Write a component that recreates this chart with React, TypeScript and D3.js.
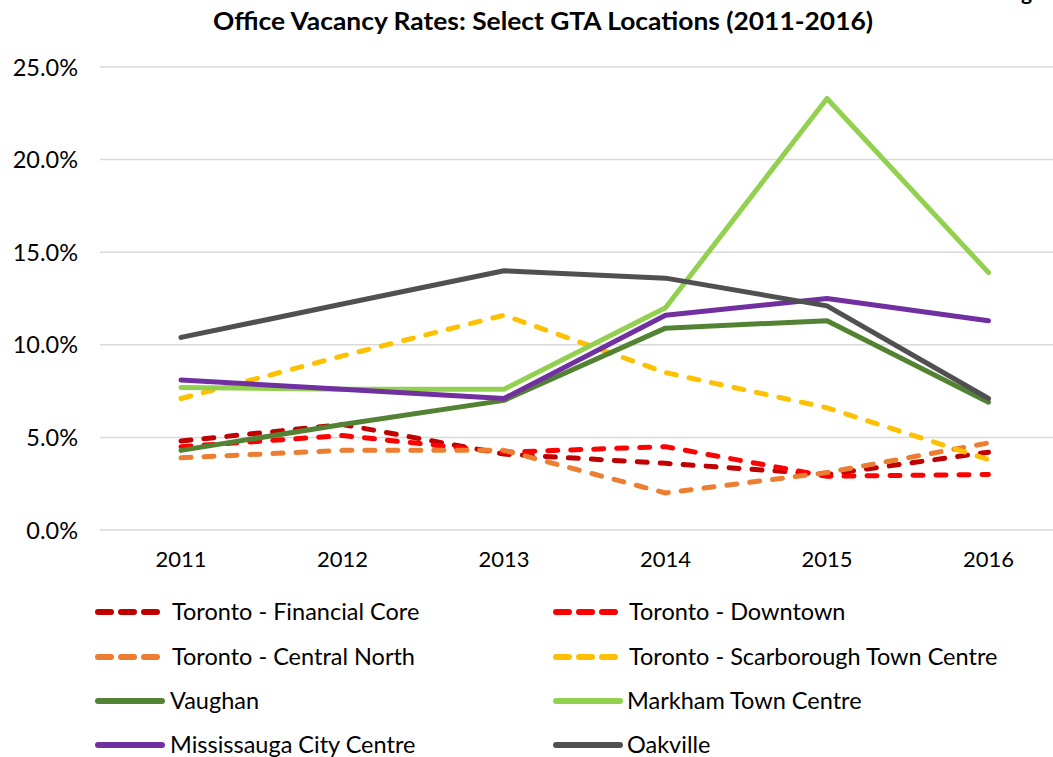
import React from "react";
import * as d3 from "d3";

const years = ["2011", "2012", "2013", "2014", "2015", "2016"];
const yTicks = [0, 5, 10, 15, 20, 25];

const financialCore = [4.8, 5.7, 4.1, 3.6, 3.0, 4.2];
const downtown = [4.5, 5.1, 4.2, 4.5, 2.9, 3.0];
const centralNorth = [3.9, 4.3, 4.3, 2.0, 3.1, 4.7];
const scarborough = [7.1, 9.4, 11.6, 8.5, 6.6, 3.8];
const vaughan = [4.3, 5.7, 7.0, 10.9, 11.3, 6.9];
const markham = [7.7, 7.6, 7.6, 12.0, 23.3, 13.9];
const mississauga = [8.1, 7.6, 7.1, 11.6, 12.5, 11.3];
const oakville = [10.4, 12.2, 14.0, 13.6, 12.1, 7.1];

const seriesNames = [
  "Toronto - Financial Core",
  "Toronto - Downtown",
  "Toronto - Central North",
  "Toronto - Scarborough Town Centre",
  "Vaughan",
  "Markham Town Centre",
  "Mississauga City Centre",
  "Oakville",
];
const seriesValues = [financialCore, downtown, centralNorth, scarborough, vaughan, markham, mississauga, oakville];
const seriesColors = ["#C00000", "#FF0000", "#ED7D31", "#FFC000", "#548235", "#92D050", "#7030A0", "#505050"];
const seriesDashed = [true, true, true, true, false, false, false, false];

const W = 1053;
const H = 757;
const FONT = "Lato, 'Open Sans', sans-serif";

export default function App() {
  const x = d3.scalePoint<string>().domain(years).range([181, 988.5]);
  const y = d3.scaleLinear().domain([0, 25]).range([530, 67]);
  const line = d3
    .line<number>()
    .x((_, i) => x(years[i]) as number)
    .y((d) => y(d));

  const legendCols = [95, 553];
  const legendTextX = [172, 629];
  const legendRows = [612, 657, 701, 745];

  return (
    <svg
      width={W}
      height={H}
      style={{ position: "absolute", left: 0, top: 0, background: "#fff" }}
      fontFamily={FONT}
    >
      <rect x={0} y={0} width={W} height={H} fill="#fff" />
      <text x={1021} y={0} fontSize={21} fontWeight="bold" fill="#000">g</text>
      <text
        x={543}
        y={30}
        textAnchor="middle"
        fontSize={24}
        fontWeight="bold"
        fill="#000"
        textLength={660}
        lengthAdjust="spacingAndGlyphs"
      >
        Office Vacancy Rates: Select GTA Locations (2011-2016)
      </text>
      {yTicks.map((t) => (
        <g key={t}>
          <line x1={100} x2={W} y1={y(t)} y2={y(t)} stroke="#d9d9d9" strokeWidth={1.5} />
          <text x={78} y={y(t) + 8.5} textAnchor="end" fontSize={23.5} fill="#000">
            {t.toFixed(1) + "%"}
          </text>
        </g>
      ))}
      {years.map((yr) => (
        <text key={yr} x={x(yr)} y={567} textAnchor="middle" fontSize={22} fill="#000">
          {yr}
        </text>
      ))}
      {seriesValues.map((vals, i) => (
        <path
          key={seriesNames[i]}
          d={line(vals) || ""}
          fill="none"
          stroke={seriesColors[i]}
          strokeWidth={5}
          strokeLinejoin="round"
          strokeLinecap="round"
          strokeDasharray={seriesDashed[i] ? "10 13" : undefined}
        />
      ))}
      {seriesNames.map((name, i) => {
        const col = i % 2;
        const row = Math.floor(i / 2);
        const ly = legendRows[row];
        const lx = legendCols[col];
        return (
          <g key={"lg" + name}>
            {seriesDashed[i] ? (
              <line
                x1={lx + 3}
                x2={lx + 62}
                y1={ly}
                y2={ly}
                stroke={seriesColors[i]}
                strokeWidth={6}
                strokeLinecap="round"
                strokeDasharray="13 10"
              />
            ) : (
              <line
                x1={lx + 3}
                x2={lx + 67}
                y1={ly}
                y2={ly}
                stroke={seriesColors[i]}
                strokeWidth={6}
                strokeLinecap="round"
              />
            )}
            <text x={seriesDashed[i] ? legendTextX[col] : legendTextX[col] - 2} y={ly + 8} fontSize={23.5} fill="#000">
              {name}
            </text>
          </g>
        );
      })}
    </svg>
  );
}
